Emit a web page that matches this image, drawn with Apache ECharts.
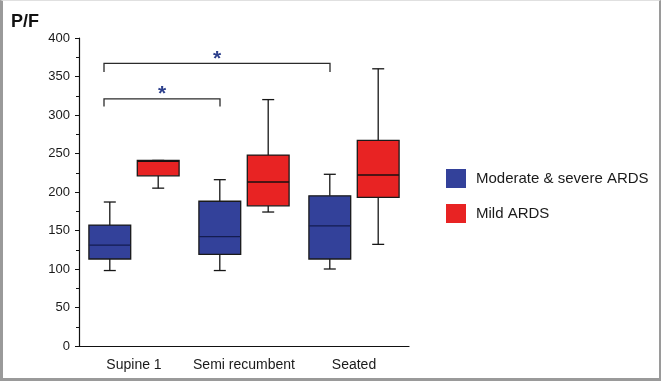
<!DOCTYPE html>
<html>
<head>
<meta charset="utf-8">
<script src="https://cdn.jsdelivr.net/npm/echarts@6/dist/echarts.min.js"></script>
<style>
    html, body { margin: 0; padding: 0; background: #fff; }
    .wrap { position: relative; width: 661px; height: 381px; }
    #chart { position: absolute; left: 0; top: 0; width: 661px; height: 381px; }
    .frame {
        position: absolute; left: 0; top: 0; width: 661px; height: 381px;
        box-sizing: border-box; pointer-events: none;
        border-left: 3px solid #9a9a9a; border-right: 2px solid #9a9a9a;
        border-bottom: 3px solid #9a9a9a; border-top: 1px solid #e0e0e0;
    }
</style>
</head>
<body>
<div class="wrap">
    <div id="chart"></div>
    <div class="frame"></div>
</div>
<script>
// categories and series, [min, Q1, median, Q3, max]
const categories = ['Supine 1', 'Semi recumbent', 'Seated'];
const moderateSevere = [
    [98, 113, 131, 157, 187],
    [98, 119, 142, 188, 216],
    [100, 113, 156, 195, 223]
];
const mild = [
    [205, 221, 240, 241, 241],
    [174, 182, 213, 248, 320],
    [132, 193, 222, 267, 360]
];
// significance brackets: [fromCategory, toCategory, barValue, legValue]
const brackets = [
    [0, 2, 367, 356],
    [0, 1, 321, 311]
];
const yTicks = { min: 0, max: 400, step: 50 };

const font = 'Arial, "Liberation Sans", sans-serif';
const chart = echarts.init(document.getElementById('chart'));

// box + whiskers drawn through the axis scales; shift is a fraction of the band
function boxRenderer(shift, fill, medianColor) {
    return function (params, api) {
        const cat = api.value(0);
        const band = api.size([1, 0])[0];
        const cx = api.coord([cat, 0])[0] + band * shift;
        const half = band * 0.19;
        const cap = 6;
        const yMin = api.coord([cat, api.value(1)])[1];
        const yQ1 = api.coord([cat, api.value(2)])[1];
        const yMed = api.coord([cat, api.value(3)])[1];
        const yQ3 = api.coord([cat, api.value(4)])[1];
        const yMax = api.coord([cat, api.value(5)])[1];
        const line = { stroke: '#161616', lineWidth: 1.3 };
        return {
            type: 'group',
            children: [
                { type: 'line', shape: { x1: cx, y1: yQ3, x2: cx, y2: yMax }, style: line },
                { type: 'line', shape: { x1: cx - cap, y1: yMax, x2: cx + cap, y2: yMax }, style: line },
                { type: 'line', shape: { x1: cx, y1: yQ1, x2: cx, y2: yMin }, style: line },
                { type: 'line', shape: { x1: cx - cap, y1: yMin, x2: cx + cap, y2: yMin }, style: line },
                {
                    type: 'rect',
                    shape: { x: cx - half, y: yQ3, width: half * 2, height: yQ1 - yQ3 },
                    style: { fill: fill, stroke: '#1a1a1a', lineWidth: 1.3 }
                },
                {
                    type: 'line',
                    shape: { x1: cx - half, y1: yMed, x2: cx + half, y2: yMed },
                    style: { stroke: medianColor, lineWidth: 1.4 }
                }
            ]
        };
    };
}

function renderBracket(params, api) {
    const a = api.coord([api.value(0), api.value(2)]);
    const b = api.coord([api.value(1), api.value(2)]);
    const legY = api.coord([api.value(0), api.value(3)])[1];
    const x1 = a[0] - 30;
    const x2 = b[0] - 24;
    const y = a[1];
    return {
        type: 'group',
        children: [
            {
                type: 'polyline',
                shape: { points: [[x1, legY], [x1, y], [x2, y], [x2, legY]] },
                style: { stroke: '#2b2b2b', lineWidth: 1.3, fill: null }
            },
            {
                type: 'text',
                x: (x1 + x2) / 2,
                y: y - 15,
                style: {
                    text: '*', fill: '#2c3f8c', font: 'bold 21px ' + font,
                    align: 'center', verticalAlign: 'top'
                }
            }
        ]
    };
}

const toRows = (list) => list.map((d, i) => [i].concat(d));

const option = {
    animation: false,
    title: {
        text: 'P/F', left: 6, top: 8,
        textStyle: { fontFamily: font, fontSize: 18, fontWeight: 'bold', color: '#111' }
    },
    legend: {
        orient: 'vertical', left: 441, top: 164,
        icon: 'rect', itemWidth: 20, itemHeight: 19, itemGap: 16,
        data: [
            { name: 'Moderate & severe ARDS', itemStyle: { color: '#33419a', borderWidth: 0 } },
            { name: 'Mild ARDS', itemStyle: { color: '#e82323', borderWidth: 0 } }
        ],
        textStyle: { fontFamily: font, fontSize: 15, color: '#1a1a1a', padding: [0, 0, 0, 5] }
    },
    grid: { left: 79, right: 252, top: 38, bottom: 35 },
    xAxis: {
        type: 'category',
        data: categories,
        axisLine: { lineStyle: { color: '#111', width: 1.2 } },
        axisTick: { alignWithLabel: true, length: 3, lineStyle: { color: '#111' } },
        axisLabel: { interval: 0, fontFamily: font, fontSize: 14, color: '#1a1a1a', margin: 12 },
        splitLine: { show: false }
    },
    yAxis: {
        type: 'value',
        min: yTicks.min, max: yTicks.max, interval: yTicks.step,
        axisLine: { show: true, lineStyle: { color: '#111', width: 1.2 } },
        axisTick: { show: true, length: 4, lineStyle: { color: '#111' } },
        minorTick: { show: true, splitNumber: 2, length: 3, lineStyle: { color: '#111' } },
        axisLabel: { fontFamily: font, fontSize: 13, color: '#1a1a1a', margin: 9 },
        splitLine: { show: false }
    },
    series: [
        {
            name: 'Moderate & severe ARDS',
            type: 'custom',
            renderItem: boxRenderer(-0.22, '#33419a', '#141c50'),
            itemStyle: { color: '#33419a' },
            encode: { x: 0, y: [1, 2, 3, 4, 5] },
            data: toRows(moderateSevere)
        },
        {
            name: 'Mild ARDS',
            type: 'custom',
            renderItem: boxRenderer(0.22, '#e82323', '#1a1010'),
            itemStyle: { color: '#e82323' },
            encode: { x: 0, y: [1, 2, 3, 4, 5] },
            data: toRows(mild)
        },
        {
            type: 'custom',
            silent: true,
            renderItem: renderBracket,
            encode: { x: [0, 1], y: [2, 3] },
            data: brackets,
            z: 5
        }
    ]
};
chart.setOption(option);
</script>
</body>
</html>
